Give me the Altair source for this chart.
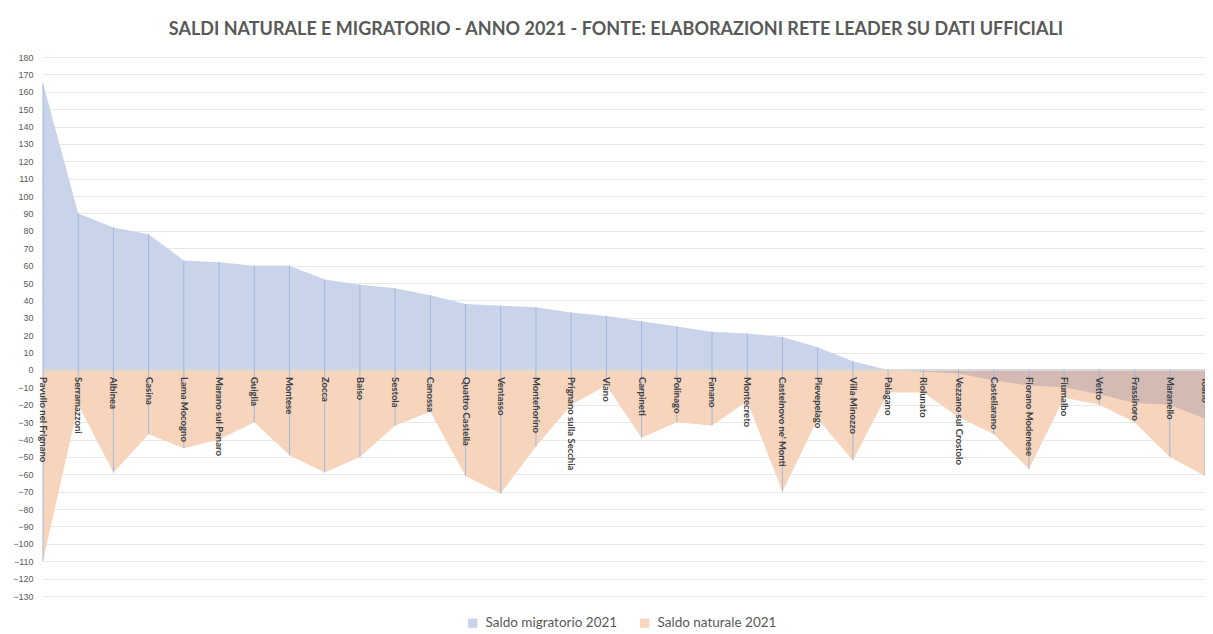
import altair as alt
import pandas as pd

comuni = [
    "Pavullo nel Frignano", "Serramazzoni", "Albinea", "Casina", "Lama Mocogno",
    "Marano sul Panaro", "Guiglia", "Montese", "Zocca", "Baiso", "Sestola",
    "Canossa", "Quattro Castella", "Ventasso", "Montefiorino",
    "Prignano sulla Secchia", "Viano", "Carpineti", "Polinago", "Fanano",
    "Montecreto", "Castelnovo ne' Monti", "Pievepelago", "Villa Minozzo",
    "Palagano", "Riolunato", "Vezzano sul Crostolo", "Castellarano",
    "Fiorano Modenese", "Fiumalbo", "Vetto", "Frassinoro", "Maranello", "Toano",
]
saldo_migratorio = [165, 90, 82, 78, 63, 62, 60, 60, 52, 49, 47, 43, 38, 37, 36, 33,
                    31, 28, 25, 22, 21, 19, 13, 5, 0, -1, -2, -6, -9, -10, -14, -19,
                    -20, -28]
saldo_naturale = [-110, -20, -59, -37, -45, -40, -30, -49, -59, -50, -32, -24, -61,
                  -71, -44, -20, -9, -39, -30, -32, -18, -70, -28, -52, -13, -13,
                  -27, -37, -57, -16, -20, -30, -50, -61]
tick_values = list(range(-130, 190, 10))

LAB_M = "Saldo migratorio 2021"
LAB_N = "Saldo naturale 2021"
TITLE = "SALDI NATURALE E MIGRATORIO - ANNO 2021 - FONTE: ELABORAZIONI RETE LEADER SU DATI UFFICIALI"

df = pd.DataFrame({"comune": comuni, "mig": saldo_migratorio, "nat": saldo_naturale})

color_scale = alt.Scale(domain=[LAB_M, LAB_N], range=["#C9D4EA", "#F7D5BD"])
x = alt.X("comune:N", sort=None, scale=alt.Scale(type="point", padding=0), axis=None)
yscale = alt.Scale(domain=[-130, 180], nice=False, zero=False)
yaxis = alt.Axis(values=tick_values, tickCount=len(tick_values) + 5,
                 grid=True, gridColor="#E8E8E8",
                 domain=False, ticks=False, labelFontSize=9,
                 labelColor="#595959", labelPadding=10, title=None,
                 labelFont="Liberation Sans", labelOverlap=False,
                 labelBound=False, labelFlush=False)

base = alt.Chart(df)

area_m = base.transform_calculate(serie=f"'{LAB_M}'").mark_area().encode(
    x=x,
    y=alt.Y("mig:Q", scale=yscale, axis=yaxis),
    y2=alt.datum(0),
    color=alt.Color("serie:N", scale=color_scale,
                    legend=alt.Legend(orient="none", legendX=423, legendY=559,
                                      direction="horizontal", title=None,
                                      symbolType="square", symbolSize=85,
                                      symbolStrokeWidth=0, labelFontSize=13.5,
                                      labelFont="Lato", labelColor="#595959",
                                      columnPadding=20, labelOffset=6)),
)

area_n = base.transform_calculate(serie=f"'{LAB_N}'").mark_area().encode(
    x=x,
    y=alt.Y("nat:Q", scale=yscale, axis=yaxis),
    y2=alt.datum(0),
    color=alt.Color("serie:N", scale=color_scale),
)

area_ov = base.transform_calculate(ov="min(0, datum.mig)").mark_area(color="#D3BAB2").encode(
    x=x,
    y=alt.Y("ov:Q", scale=yscale, axis=yaxis),
    y2=alt.datum(0),
)

zero = base.mark_rule(color="#D9D9D9", strokeWidth=1).encode(
    y=alt.datum(0)
)

drops = base.transform_calculate(
    top="max(0, datum.mig, datum.nat)", bot="min(0, datum.mig, datum.nat)"
).mark_rule(color="#A3B6DA", strokeWidth=1).encode(
    x=x,
    y=alt.Y("top:Q", scale=yscale, axis=yaxis),
    y2="bot:Q",
)

labels = base.mark_text(
    angle=90, align="left", baseline="middle", dx=7,
    font="Lato", fontSize=9.5, fontWeight="bold", color="#404040",
).encode(
    x=x,
    y=alt.datum(0),
    text="comune:N",
)

chart = alt.layer(area_m, area_n, area_ov, zero, drops, labels).properties(
    width=1162,
    height=539,
    title=alt.Title(TITLE, font="Lato", fontSize=18, fontWeight="bold",
                    color="#595959", anchor="middle", offset=14, dx=-8),
    padding={"left": 35, "top": 49, "right": 0, "bottom": 38},
    autosize=alt.AutoSizeParams(type="none"),
).configure_view(stroke=None)

chart.save("out.html", embed_options={"renderer": "svg", "actions": False})
